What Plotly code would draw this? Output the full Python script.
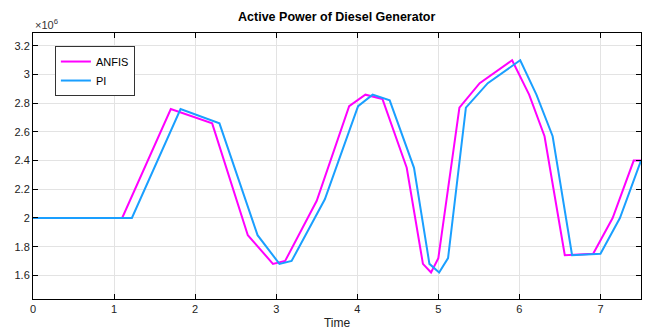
import plotly.graph_objects as go

SCALE = 1e6
anfis_t = [0, 1.10, 1.70, 2.21, 2.65, 2.96, 3.11, 3.50, 3.90, 4.10, 4.31, 4.61, 4.81, 4.91, 5.00, 5.26, 5.51, 5.91, 6.12, 6.31, 6.56, 6.91, 7.15, 7.41, 7.50]
anfis_p = [2.00, 2.00, 2.76, 2.66, 1.88, 1.68, 1.70, 2.12, 2.78, 2.86, 2.83, 2.35, 1.68, 1.62, 1.72, 2.77, 2.94, 3.10, 2.86, 2.57, 1.74, 1.75, 2.00, 2.40, 2.40]
pi_t = [0, 1.22, 1.82, 2.30, 2.77, 3.04, 3.19, 3.60, 4.01, 4.19, 4.40, 4.70, 4.89, 5.01, 5.12, 5.34, 5.61, 6.01, 6.21, 6.41, 6.65, 7.00, 7.24, 7.50]
pi_p = [2.00, 2.00, 2.76, 2.66, 1.88, 1.68, 1.70, 2.13, 2.78, 2.86, 2.82, 2.35, 1.68, 1.62, 1.72, 2.77, 2.94, 3.10, 2.86, 2.57, 1.74, 1.75, 2.00, 2.40]
y_ticks = [1.6, 1.8, 2.0, 2.2, 2.4, 2.6, 2.8, 3.0, 3.2]
y_labels = ["1.6", "1.8", "2", "2.2", "2.4", "2.6", "2.8", "3", "3.2"]
x_ticks = [0, 1, 2, 3, 4, 5, 6, 7]

fig = go.Figure()
fig.add_trace(go.Scatter(x=anfis_t, y=[v * SCALE for v in anfis_p], mode="lines",
                         name="ANFIS", line=dict(color="#ff00ff", width=2)))
fig.add_trace(go.Scatter(x=pi_t, y=[v * SCALE for v in pi_p], mode="lines",
                         name="PI", line=dict(color="#1a9fff", width=2)))

axis_common = dict(showline=True, linecolor="black", linewidth=1, mirror="allticks",
                   ticks="inside", ticklen=5, tickcolor="black", automargin=False,
                   showgrid=True, gridcolor="#e3e3e3", gridwidth=1, zeroline=False,
                   tickfont=dict(family="Liberation Sans, Arial", size=11, color="#222"))
fig.update_xaxes(range=[0, 7.5], tickvals=x_ticks,
                 title=dict(text="Time", font=dict(family="Liberation Sans, Arial", size=12, color="#222"), standoff=4),
                 **axis_common)
fig.update_yaxes(range=[1.435 * SCALE, 3.29 * SCALE], tickvals=[v * SCALE for v in y_ticks],
                 ticktext=y_labels, **axis_common)

fig.update_layout(
    width=650, height=332,
    margin=dict(l=33, r=9, t=33, b=33, autoexpand=False),
    paper_bgcolor="white", plot_bgcolor="white",
    title=dict(text="<b>Active Power of Diesel Generator</b>", x=0.518, xanchor="center",
               y=0.95, yanchor="middle",
               font=dict(family="Liberation Sans, Arial", size=12.5, color="black")),
    legend=dict(x=0.036, y=0.951, xanchor="left", yanchor="top",
                bgcolor="white", bordercolor="#333", borderwidth=1,
                font=dict(family="Liberation Sans, Arial", size=11, color="black"),
                tracegroupgap=0, itemwidth=30),
    showlegend=True,
    annotations=[dict(text="×10<sup>6</sup>", xref="paper", yref="paper", x=0, y=1.0,
                      xanchor="left", yanchor="bottom", showarrow=False,
                      font=dict(family="Liberation Sans, Arial", size=11, color="#333"))],
)
fig.write_html("out.html")
